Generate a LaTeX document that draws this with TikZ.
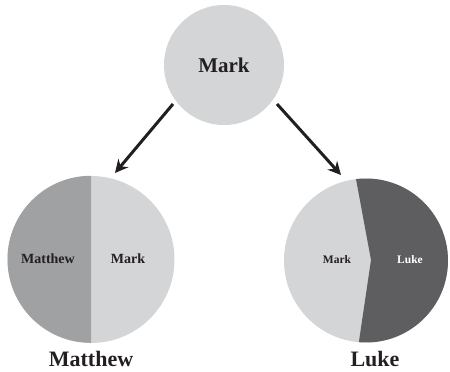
\documentclass[tikz,border=0pt]{standalone}
\usepackage{fontspec}
\setmainfont{Liberation Serif}
\usepackage{tikz}
\usetikzlibrary{arrows.meta}
\definecolor{pielight}{HTML}{D4D5D7}
\definecolor{piemid}{HTML}{A0A1A3}
\definecolor{piedark}{HTML}{5E5E60}
\definecolor{ink}{HTML}{231F20}
\tikzset{
    gospel/.style={circle, fill=pielight, inner sep=0pt},
    lbl/.style={text=ink, inner sep=1pt, font=\bfseries\fontsize{#1}{#1}\selectfont},
    flow/.style={-{Stealth[length=13pt,width=13pt]}, line width=3pt, ink}
}
\begin{document}
\begin{tikzpicture}[x=1pt, y=1pt]
    \useasboundingbox (0,0) rectangle (450,372);
    % source gospel
    \node[gospel, minimum size=120pt] (mark) at (224,307) {};
    \node[lbl=21] at (mark) {Mark};
    % Matthew
    \node[gospel, minimum size=167pt] (matthew) at (91,112.5) {};
    \fill[piemid] (matthew.north) arc[start angle=90, end angle=270, radius=83.5pt] -- cycle;
    \node[lbl=14] at (48,113) {Matthew};
    \node[lbl=14] at (128,113) {Mark};
    \node[lbl=22] (matthewname) at (91,13) {Matthew};
    % Luke
    \node[gospel, minimum size=164pt] (luke) at (366,111.5) {};
    \fill[piedark] ([shift={(97:82pt)}]luke.center) -- (371,112)
        -- ([shift={(265:82pt)}]luke.center) arc[start angle=265, end angle=457, radius=82pt] -- cycle;
    \node[lbl=11.5] at (337,112) {Mark};
    \node[lbl=11.5, text=white] at (410,112) {Luke};
    \node[lbl=22] (lukename) at (375,13) {Luke};
    % arrows
    \coordinate (l1) at (173,268);
    \coordinate (l2) at (115,199);
    \coordinate (r1) at (277,268);
    \coordinate (r2) at (341,197);
    \draw[flow] (l1) -- (l2);
    \draw[flow] (r1) -- (r2);
\end{tikzpicture}
\end{document}
